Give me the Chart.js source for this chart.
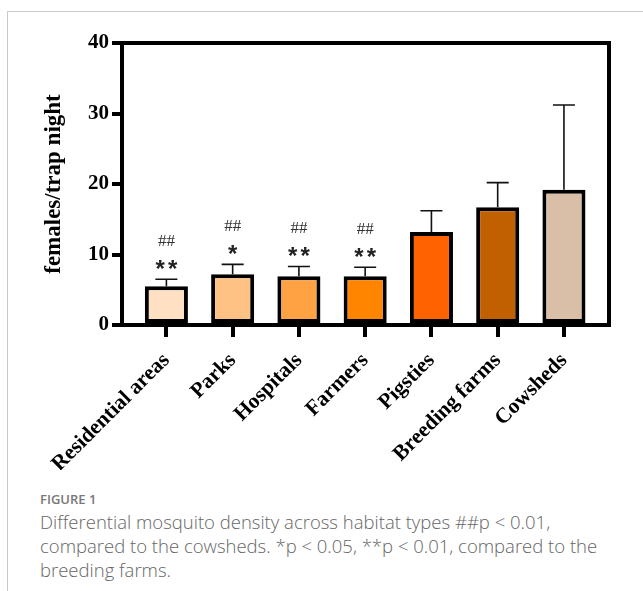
<!DOCTYPE html>
<html>
<head>
<meta charset="utf-8">
<script src="https://cdn.jsdelivr.net/npm/chart.js@4/dist/chart.umd.min.js"></script>
<style>
  html, body { margin: 0; padding: 0; background: #fff; }
  body { width: 643px; height: 591px; position: relative; overflow: hidden; }
  .frame {
    position: absolute; left: 7px; top: 11px; right: -2px; bottom: -2px;
    border-left: 1px solid #c9c9c9; border-top: 1px solid #c9c9c9;
  }
  #chartBox { position: absolute; left: 0; top: 0; width: 643px; height: 470px; }
  .caption { position: absolute; left: 40px; top: 488px; width: 600px; font-family: "Open Sans", sans-serif; color: #666; }
  .caption .fig { font-size: 13px; font-weight: 600; color: #777; line-height: 22px; }
  .caption p { margin: 0; font-size: 18.5px; line-height: 24px; font-weight: 300; }
</style>
</head>
<body>
<div class="frame"></div>
<div id="chartBox"><canvas id="chart" width="643" height="470"></canvas></div>
<div class="caption">
  <div class="fig">FIGURE 1</div>
  <p>Differential mosquito density across habitat types ##p &lt; 0.01,<br>compared to the cowsheds. *p &lt; 0.05, **p &lt; 0.01, compared to the<br>breeding farms.</p>
</div>
<script>
"use strict";

const habitats = ["Residential areas", "Parks", "Hospitals", "Farmers", "Pigsties", "Breeding farms", "Cowsheds"];
const meanDensity = [5.5, 7.2, 6.9, 6.9, 13.2, 16.7, 19.2];
const errorUpper = [6.5, 8.6, 8.3, 8.2, 16.2, 20.2, 31.2];
const vsCowsheds = ["##", "##", "##", "##", "", "", ""];
const vsBreedingFarms = ["**", "*", "**", "**", "", "", ""];
const yTicks = [0, 10, 20, 30, 40];

const barColors = ["#ffe0c2", "#ffc285", "#ffa244", "#ff8400", "#ff6200", "#c06000", "#d9bea8"];
const serif = "'Liberation Serif', 'Times New Roman', serif";

const errorBarsPlugin = {
  id: "errorBars",
  afterDatasetsDraw(chart) {
    const { ctx, scales } = chart;
    ctx.save();
    ctx.strokeStyle = "#111";
    ctx.lineWidth = 1.6;
    errorUpper.forEach((top, i) => {
      const x = scales.x.getPixelForValue(i);
      const y0 = scales.y.getPixelForValue(meanDensity[i]);
      const y1 = scales.y.getPixelForValue(top);
      ctx.beginPath();
      ctx.moveTo(x, y0);
      ctx.lineTo(x, y1);
      ctx.moveTo(x - 11, y1);
      ctx.lineTo(x + 11, y1);
      ctx.stroke();
    });
    ctx.restore();
  }
};

const frameAndMarksPlugin = {
  id: "frameAndMarks",
  afterDatasetsDraw(chart) {
    const { ctx, chartArea, scales } = chart;
    ctx.save();
    ctx.strokeStyle = "#000";
    ctx.lineWidth = 4;
    ctx.lineCap = "square";
    ctx.beginPath();
    ctx.moveTo(chartArea.left, chartArea.top);
    ctx.lineTo(chartArea.right, chartArea.top);
    ctx.lineTo(chartArea.right, chartArea.bottom);
    ctx.stroke();

    ctx.textAlign = "center";
    ctx.textBaseline = "middle";
    habitats.forEach((name, i) => {
      const x = scales.x.getPixelForValue(i);
      const yTop = scales.y.getPixelForValue(errorUpper[i]);
      if (vsCowsheds[i]) {
        ctx.fillStyle = "#333";
        ctx.font = "17px " + serif;
        ctx.fillText(vsCowsheds[i], x, yTop - 38);
      }
      if (vsBreedingFarms[i]) {
        ctx.fillStyle = "#222";
        ctx.font = "bold 24px 'Liberation Sans', Arial, sans-serif";
        ctx.letterSpacing = "3px";
        ctx.fillText(vsBreedingFarms[i], x + 1.5, yTop - 9);
        ctx.letterSpacing = "0px";
      }
    });
    ctx.restore();
  }
};

const ctx = document.getElementById("chart").getContext("2d");
const chart = new Chart(ctx, {
  type: "bar",
  data: {
    datasets: [
      {
        data: meanDensity.map((v, i) => ({ x: i, y: v })),
        backgroundColor: barColors,
        borderColor: "#000",
        borderWidth: 4,
        borderSkipped: false,
        barPercentage: 0.65,
        categoryPercentage: 1
      }
    ]
  },
  options: {
    responsive: false,
    animation: false,
    layout: { padding: { top: 43, right: 34, left: 0, bottom: 0 } },
    plugins: { legend: { display: false }, tooltip: { enabled: false } },
    scales: {
      x: {
        type: "linear",
        offset: false,
        bounds: "data",
        min: -0.67,
        max: 6.68,
        afterBuildTicks: scale => {
          scale.ticks = habitats.map((_, i) => ({ value: i }));
        },
        afterFit: scale => {
          scale.height = 145;
        },
        ticks: {
          autoSkip: false,
          minRotation: 45,
          maxRotation: 45,
          padding: 11,
          color: "#000",
          font: { family: serif, size: 21.5, weight: "bold" },
          callback: (value, index) => habitats[index]
        },
        grid: { display: true, offset: false, drawOnChartArea: false, drawTicks: true, tickLength: 12, lineWidth: 4, color: "#000" },
        border: { display: true, width: 4, color: "#000" }
      },
      y: {
        min: 0,
        max: 40,
        afterBuildTicks: scale => {
          scale.ticks = yTicks.map(v => ({ value: v }));
        },
        afterFit: scale => {
          scale.width = 122;
        },
        ticks: {
          padding: 3,
          color: "#000",
          font: { family: serif, size: 21, weight: "bold" }
        },
        grid: { display: true, drawOnChartArea: false, drawTicks: true, tickLength: 10, lineWidth: 4, color: "#000" },
        border: { display: true, width: 4, color: "#000" },
        title: {
          display: true,
          text: "females/trap night",
          color: "#000",
          font: { family: serif, size: 23, weight: "bold" },
          padding: { top: 40, bottom: 0 }
        }
      }
    }
  },
  plugins: [errorBarsPlugin, frameAndMarksPlugin]
});
</script>
</body>
</html>
